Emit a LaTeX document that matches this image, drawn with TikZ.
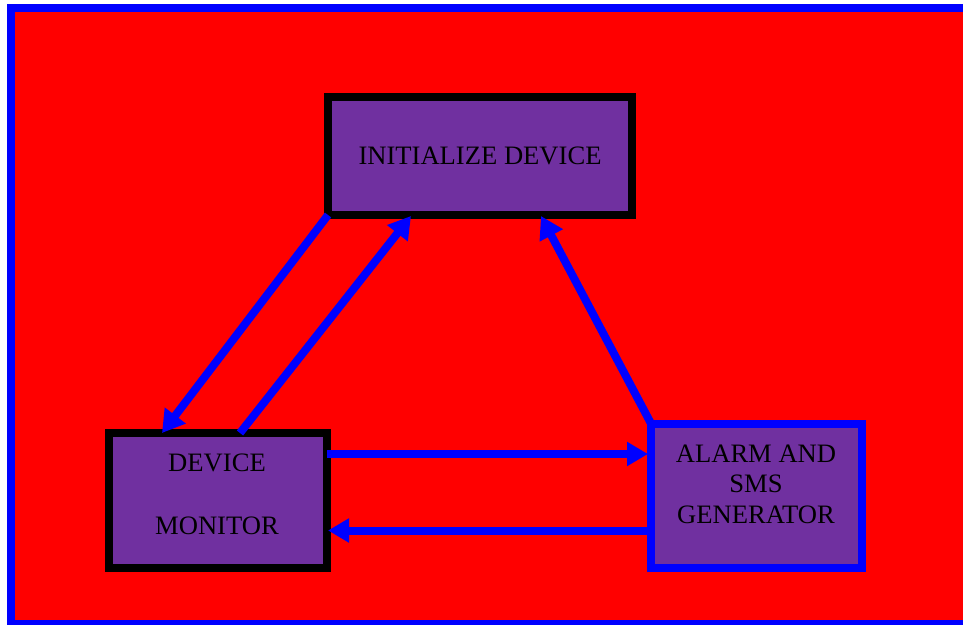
\documentclass[tikz,border=0pt]{standalone}
\usepackage{fontspec}
\setmainfont{Liberation Serif}
\usetikzlibrary{arrows.meta,calc}
\definecolor{bgred}{RGB}{255,0,0}
\definecolor{edgeblue}{RGB}{0,0,255}
\definecolor{boxpurple}{RGB}{112,48,160}
\tikzset{
  procbox/.style={draw=black,fill=boxpurple,line width=8pt,inner sep=0pt,outer sep=0pt},
  alarmbox/.style={draw=edgeblue,fill=boxpurple,line width=8pt,inner sep=0pt,outer sep=0pt},
  lbl/.style={align=center,inner sep=0pt,font=\fontsize{26.6pt}{30.5pt}\selectfont},
  flow/.style={draw=edgeblue,line width=8pt,-{Triangle[length=22pt,width=25pt]}},
  hflow/.style={draw=edgeblue,line width=8pt,-{Triangle[length=21pt,width=23pt]}}
}
\begin{document}
\begin{tikzpicture}[x=1pt,y=-1pt]
\useasboundingbox (0,0) rectangle (963,624);
\draw[edgeblue,fill=bgred,line width=8pt] (11,8) rectangle (968,624);
% boxes
\node[procbox,minimum width=304pt,minimum height=118pt] (init) at (480,156) {};
\node[procbox,minimum width=218pt,minimum height=134.5pt] (dm) at (218,500.25) {};
\node[alarmbox,minimum width=210.5pt,minimum height=144pt] (alarm) at (756.25,495.5) {};
% labels
\node[lbl] (inittext) at (480,156) {INITIALIZE DEVICE};
\node[lbl] (dmtext) at (217,494) {DEVICE\\[32.5pt]MONITOR};
\node[lbl] (alarmtext) at (756,484) {ALARM AND\\SMS\\GENERATOR};
% connectors
\draw[flow] (init.south west) -- ($(dm.north)+(-56,0)$);
\draw[flow] ($(dm.north)+(22,0)$) -- ($(init.south)+(-69,1)$);
\draw[flow] (alarm.north west) -- ($(init.south)+(61,1)$);
\draw[hflow] ($(dm.north east)+(0,21)$) -- ($(alarm.north west)+(-3,30.5)$);
\draw[hflow] ($(alarm.north west)+(0,107)$) -- ($(dm.north east)+(1,97.5)$);
\end{tikzpicture}
\end{document}
